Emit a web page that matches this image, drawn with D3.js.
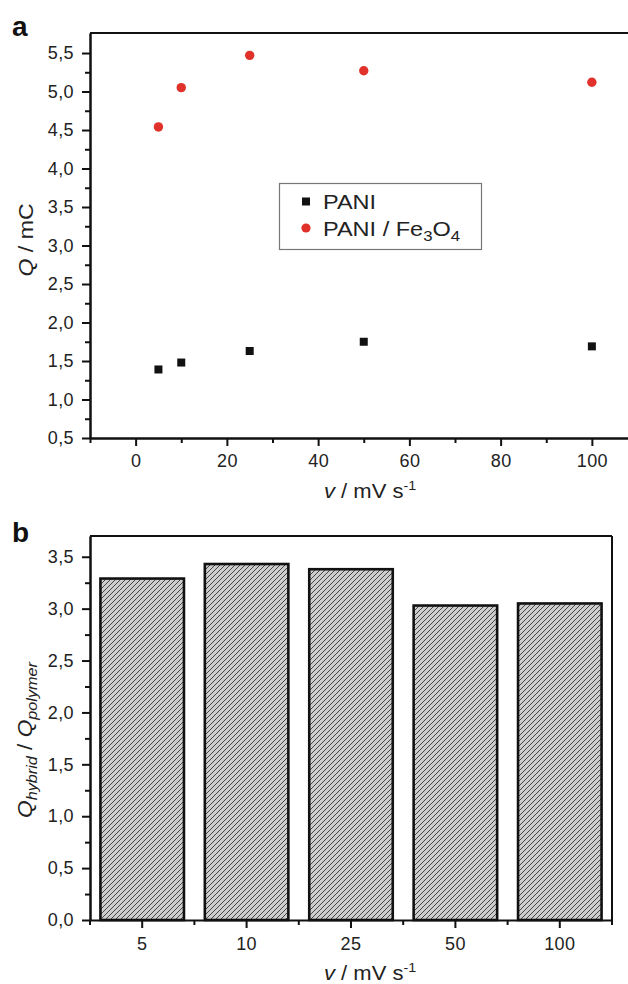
<!doctype html>
<html>
<head>
<meta charset="utf-8">
<script src="https://d3js.org/d3.v7.min.js"></script>
<style>
  body { margin: 0; background: #fff; }
  text { font-family: "Liberation Sans", Arial, sans-serif; fill: #222; }
  .axis .domain { stroke: #111; stroke-width: 2; }
  .axis line { stroke: #111; stroke-width: 2; }
  .axis text { font-size: 18px; letter-spacing: 0.4px; fill: #222; }
</style>
</head>
<body>
<div id="chart"></div>
<script>
// data
var scanRates = [5, 10, 25, 50, 100];
var qPani = [1.39, 1.48, 1.63, 1.75, 1.69];
var qPaniFe3O4 = [4.54, 5.05, 5.47, 5.27, 5.12];
var barLabels = ["5", "10", "25", "50", "100"];
var qRatio = [3.29, 3.43, 3.38, 3.03, 3.05];

var topYTicks = [0.5, 1.0, 1.5, 2.0, 2.5, 3.0, 3.5, 4.0, 4.5, 5.0, 5.5];
var topXTicks = [0, 20, 40, 60, 80, 100];
var botYTicks = [0, 0.5, 1.0, 1.5, 2.0, 2.5, 3.0, 3.5];

var W = 628, H = 984;
var svg = d3.select("#chart").append("svg")
    .attr("width", W).attr("height", H);

var fmt = function(d) { return d3.format(".1f")(d).replace(".", ","); };

// hatch pattern for bars
var defs = svg.append("defs");
var pat = defs.append("pattern")
    .attr("id", "hatch")
    .attr("patternUnits", "userSpaceOnUse")
    .attr("width", 5).attr("height", 5);
pat.append("rect").attr("width", 5).attr("height", 5).attr("fill", "#cdcdcd");
pat.append("path")
    .attr("d", "M0,5 L5,0 M-1,1 L1,-1 M4,6 L6,4")
    .attr("stroke", "#454545").attr("stroke-width", 1);

function minorsBetween(arr) {
    var out = [];
    for (var i = 0; i < arr.length - 1; i++) out.push((arr[i] + arr[i + 1]) / 2);
    return out;
}

// ---------- panel a ----------
var x1 = d3.scaleLinear().domain([-10, 110]).range([90, 637.5]);
var y1 = d3.scaleLinear().domain([0.5, 5.76]).range([438, 33]);

// frame top / right
svg.append("line")
    .attr("x1", x1(-10)).attr("x2", x1(110))
    .attr("y1", y1(5.76)).attr("y2", y1(5.76))
    .attr("stroke", "#111").attr("stroke-width", 2);
svg.append("line")
    .attr("x1", x1(110)).attr("x2", x1(110))
    .attr("y1", y1(5.76)).attr("y2", y1(0.5))
    .attr("stroke", "#111").attr("stroke-width", 2);

svg.append("g").attr("class", "axis")
    .attr("transform", "translate(0," + y1(0.5) + ")")
    .call(d3.axisBottom(x1).tickValues([-10, 10, 30, 50, 70, 90, 110])
        .tickSize(5).tickSizeOuter(0).tickFormat(""));
svg.append("g").attr("class", "axis")
    .attr("transform", "translate(0," + y1(0.5) + ")")
    .call(d3.axisBottom(x1).tickValues(topXTicks)
        .tickSize(8).tickSizeOuter(0).tickPadding(8).tickFormat(d3.format("d")));

svg.append("g").attr("class", "axis")
    .attr("transform", "translate(" + x1(-10) + ",0)")
    .call(d3.axisLeft(y1).tickValues(minorsBetween(topYTicks))
        .tickSize(5).tickSizeOuter(0).tickFormat(""));
svg.append("g").attr("class", "axis")
    .attr("transform", "translate(" + x1(-10) + ",0)")
    .call(d3.axisLeft(y1).tickValues(topYTicks)
        .tickSize(8).tickSizeOuter(0).tickPadding(8).tickFormat(fmt));

// points
svg.append("g").selectAll("rect")
    .data(scanRates)
    .join("rect")
    .attr("x", function(d) { return x1(d) - 4; })
    .attr("y", function(d, i) { return y1(qPani[i]) - 4; })
    .attr("width", 8).attr("height", 8)
    .attr("fill", "#111");

svg.append("g").selectAll("circle")
    .data(scanRates)
    .join("circle")
    .attr("cx", function(d) { return x1(d); })
    .attr("cy", function(d, i) { return y1(qPaniFe3O4[i]); })
    .attr("r", 4.7)
    .attr("fill", "#e0312a");

// legend
var leg = svg.append("g");
leg.append("rect")
    .attr("x", 279.5).attr("y", 183.5).attr("width", 202).attr("height", 66)
    .attr("fill", "#fff").attr("stroke", "#777").attr("stroke-width", 1.2);
leg.append("rect").attr("x", 302).attr("y", 197.5).attr("width", 8).attr("height", 8).attr("fill", "#111");
leg.append("circle").attr("cx", 306).attr("cy", 228).attr("r", 4.6).attr("fill", "#e0312a");
leg.append("text")
    .attr("transform", "translate(323,209) scale(1.12,1)")
    .style("font-size", "21px")
    .text("PANI");
var t2 = leg.append("text")
    .attr("transform", "translate(323,236) scale(1.12,1)")
    .style("font-size", "21px");
t2.append("tspan").text("PANI / Fe");
t2.append("tspan").attr("dy", 5).style("font-size", "15px").text("3");
t2.append("tspan").attr("dy", -5).text("O");
t2.append("tspan").attr("dy", 5).style("font-size", "15px").text("4");

// titles
svg.append("text")
    .attr("x", 12).attr("y", 36)
    .style("font-size", "28px").style("font-weight", "bold").style("fill", "#111")
    .text("a");

var xt1 = svg.append("text")
    .attr("transform", "translate(324,498) scale(1.1,1)")
    .style("font-size", "20px");
xt1.append("tspan").style("font-style", "italic").text("v");
xt1.append("tspan").text(" / mV s");
xt1.append("tspan").attr("dy", -8).style("font-size", "13px").text("-1");

var yt1 = svg.append("text")
    .attr("transform", "translate(33,240) rotate(-90) scale(1.1,1)")
    .attr("text-anchor", "middle")
    .style("font-size", "21px");
yt1.append("tspan").style("font-style", "italic").text("Q");
yt1.append("tspan").text(" / mC");

// ---------- panel b ----------
var xb = d3.scaleBand().domain(barLabels).range([90, 612])
    .paddingInner(0.2).paddingOuter(0.1);
var yb = d3.scaleLinear().domain([0, 3.7]).range([920, 536]);

svg.append("line")
    .attr("x1", 90).attr("x2", 612).attr("y1", yb(3.7)).attr("y2", yb(3.7))
    .attr("stroke", "#111").attr("stroke-width", 2);
svg.append("line")
    .attr("x1", 612).attr("x2", 612).attr("y1", yb(3.7)).attr("y2", yb(0))
    .attr("stroke", "#111").attr("stroke-width", 2);

svg.append("g").selectAll("rect")
    .data(barLabels)
    .join("rect")
    .attr("x", function(d) { return xb(d); })
    .attr("y", function(d, i) { return yb(qRatio[i]); })
    .attr("width", xb.bandwidth())
    .attr("height", function(d, i) { return yb(0) - yb(qRatio[i]); })
    .attr("fill", "url(#hatch)")
    .attr("stroke", "#111").attr("stroke-width", 2.6);

// minor ticks at band edges
var edges = d3.range(barLabels.length + 1).map(function(i) { return 90 + i * xb.step(); });
svg.append("g").selectAll("line")
    .data(edges)
    .join("line")
    .attr("x1", function(d) { return d; }).attr("x2", function(d) { return d; })
    .attr("y1", yb(0)).attr("y2", yb(0) + 5)
    .attr("stroke", "#111").attr("stroke-width", 2);

svg.append("g").attr("class", "axis")
    .attr("transform", "translate(0," + yb(0) + ")")
    .call(d3.axisBottom(xb).tickSize(8).tickSizeOuter(0).tickPadding(9));

svg.append("g").attr("class", "axis")
    .attr("transform", "translate(90,0)")
    .call(d3.axisLeft(yb).tickValues(minorsBetween(botYTicks))
        .tickSize(5).tickSizeOuter(0).tickFormat(""));
svg.append("g").attr("class", "axis")
    .attr("transform", "translate(90,0)")
    .call(d3.axisLeft(yb).tickValues(botYTicks)
        .tickSize(8).tickSizeOuter(0).tickPadding(8).tickFormat(fmt));

svg.append("text")
    .attr("x", 12).attr("y", 542)
    .style("font-size", "28px").style("font-weight", "bold").style("fill", "#111")
    .text("b");

var xt2 = svg.append("text")
    .attr("transform", "translate(324,980) scale(1.1,1)")
    .style("font-size", "20px");
xt2.append("tspan").style("font-style", "italic").text("v");
xt2.append("tspan").text(" / mV s");
xt2.append("tspan").attr("dy", -8).style("font-size", "13px").text("-1");

var yt2 = svg.append("text")
    .attr("transform", "translate(32,740) rotate(-90) scale(1.08,1)")
    .attr("text-anchor", "middle")
    .style("font-size", "21px");
yt2.append("tspan").style("font-style", "italic").text("Q");
yt2.append("tspan").attr("dy", 5).style("font-size", "15px").style("font-style", "italic").text("hybrid");
yt2.append("tspan").attr("dy", -5).text(" / ");
yt2.append("tspan").style("font-style", "italic").text("Q");
yt2.append("tspan").attr("dy", 5).style("font-size", "15px").style("font-style", "italic").text("polymer");
</script>
</body>
</html>
